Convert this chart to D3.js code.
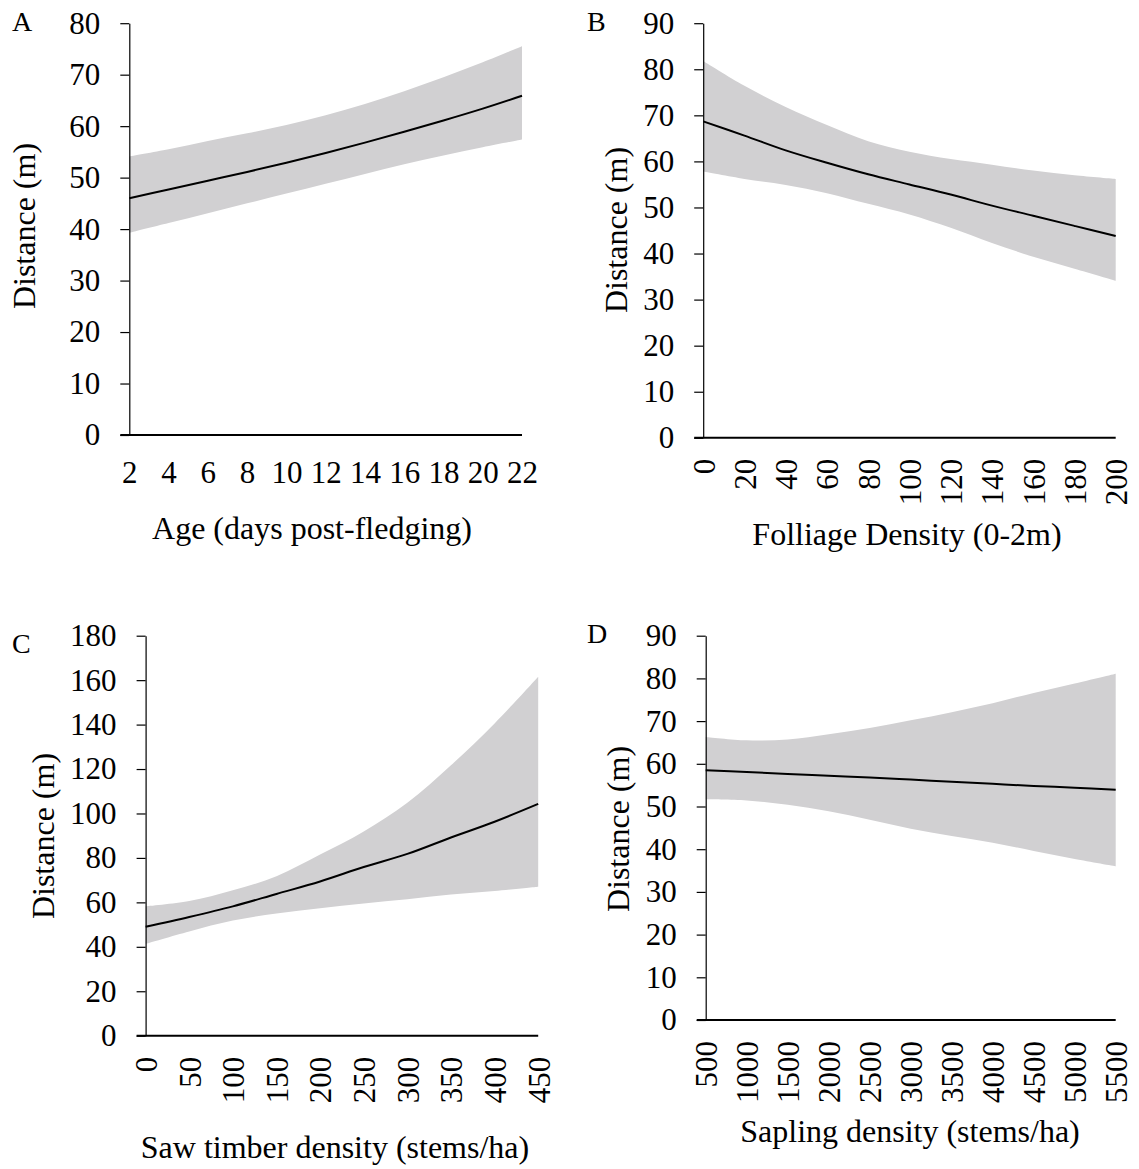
<!DOCTYPE html>
<html>
<head>
<meta charset="utf-8">
<script src="https://cdn.jsdelivr.net/npm/d3@7"></script>
<style>
  html, body { margin: 0; padding: 0; background: #fff; }
  svg { display: block; }
  text { font-family: "Liberation Serif", "Times New Roman", serif; fill: #000; }
</style>
</head>
<body>
<svg id="chart" width="1139" height="1169"></svg>
<script>
// ---- Panel A: Age (days post-fledging)
const ageX     = [2, 4, 6, 8, 10, 12, 14, 16, 18, 20, 22];
const ageMean  = [46.0, 47.7, 49.4, 51.1, 52.9, 54.8, 56.8, 58.9, 61.1, 63.4, 65.9];
const ageLower = [39.3, 41.2, 43.1, 45.0, 46.9, 48.8, 50.7, 52.6, 54.3, 55.9, 57.4];
const ageUpper = [54.1, 55.5, 57.1, 58.6, 60.2, 62.1, 64.3, 66.8, 69.5, 72.4, 75.5];
const ageXTicks = [2, 4, 6, 8, 10, 12, 14, 16, 18, 20, 22];
const ageYTicks = [0, 10, 20, 30, 40, 50, 60, 70, 80];

// ---- Panel B: Folliage Density (0-2m)
const folX     = [0, 20, 40, 60, 80, 100, 120, 140, 160, 180, 200];
const folMean  = [68.7, 65.6, 62.4, 59.7, 57.2, 55.0, 52.8, 50.4, 48.2, 46.0, 43.8];
const folLower = [57.8, 56.2, 54.9, 53.1, 50.8, 48.5, 45.6, 42.3, 39.3, 36.7, 34.1];
const folUpper = [81.8, 76.4, 71.8, 67.9, 64.4, 62.1, 60.5, 59.3, 58.0, 57.0, 56.2];
const folXTicks = [0, 20, 40, 60, 80, 100, 120, 140, 160, 180, 200];
const folYTicks = [0, 10, 20, 30, 40, 50, 60, 70, 80, 90];

// ---- Panel C: Saw timber density (stems/ha)
const sawX     = [0, 50, 100, 150, 200, 250, 300, 350, 400, 450];
const sawMean  = [49.0, 53.4, 58.2, 63.8, 69.4, 75.9, 81.8, 89.2, 96.3, 104.3];
const sawLower = [41.3, 46.9, 51.8, 55.0, 57.4, 59.5, 61.4, 63.5, 65.1, 67.0];
const sawUpper = [58.2, 60.6, 65.4, 71.8, 81.5, 91.9, 104.8, 121.7, 140.5, 161.5];
const sawXTicks = [0, 50, 100, 150, 200, 250, 300, 350, 400, 450];
const sawYTicks = [0, 20, 40, 60, 80, 100, 120, 140, 160, 180];

// ---- Panel D: Sapling density (stems/ha)
const sapX     = [500, 1000, 1500, 2000, 2500, 3000, 3500, 4000, 4500, 5000, 5500];
const sapMean  = [58.5, 58.1, 57.6, 57.2, 56.8, 56.3, 55.8, 55.3, 54.8, 54.4, 53.9];
const sapLower = [51.7, 51.4, 50.4, 48.9, 46.9, 44.8, 43.1, 41.5, 39.6, 37.7, 36.0];
const sapUpper = [66.3, 65.5, 65.7, 66.9, 68.4, 70.2, 72.1, 74.2, 76.6, 78.8, 81.1];
const sapXTicks = [500, 1000, 1500, 2000, 2500, 3000, 3500, 4000, 4500, 5000, 5500];
const sapYTicks = [0, 10, 20, 30, 40, 50, 60, 70, 80, 90];

const yTitle = "Distance (m)";

const panels = [
  { letter: "A", x: ageX, mean: ageMean, lo: ageLower, hi: ageUpper, xTicks: ageXTicks, yTicks: ageYTicks,
    xTitle: "Age (days post-fledging)", rotate: false,
    left: 129.3, right: 522, top: 23.2, bottom: 435,
    letterPos: [12, 30.5], yTitlePos: [35, 226], xTitlePos: [312, 539] },
  { letter: "B", x: folX, mean: folMean, lo: folLower, hi: folUpper, xTicks: folXTicks, yTicks: folYTicks,
    xTitle: "Folliage Density (0-2m)", rotate: true,
    left: 703.2, right: 1115.7, top: 23.2, bottom: 437.8,
    letterPos: [587, 30.5], yTitlePos: [627, 230], xTitlePos: [907, 545] },
  { letter: "C", x: sawX, mean: sawMean, lo: sawLower, hi: sawUpper, xTicks: sawXTicks, yTicks: sawYTicks,
    xTitle: "Saw timber density (stems/ha)", rotate: true,
    left: 145.6, right: 538.2, top: 635.7, bottom: 1035.7,
    letterPos: [12, 653], yTitlePos: [54, 836], xTitlePos: [335, 1158] },
  { letter: "D", x: sapX, mean: sapMean, lo: sapLower, hi: sapUpper, xTicks: sapXTicks, yTicks: sapYTicks,
    xTitle: "Sapling density (stems/ha)", rotate: true,
    left: 705.7, right: 1115.7, top: 635.7, bottom: 1020,
    letterPos: [587, 643], yTitlePos: [629, 829], xTitlePos: [910, 1142] }
];

const svg = d3.select("#chart");
const FS = 31;
const TS = 32;

panels.forEach(p => {
  const g = svg.append("g");
  const xs = d3.scaleLinear().domain(d3.extent(p.xTicks)).range([p.left, p.right]);
  const ys = d3.scaleLinear().domain(d3.extent(p.yTicks)).range([p.bottom, p.top]);
  const pts = p.x.map((v, i) => ({ x: v, m: p.mean[i], lo: p.lo[i], hi: p.hi[i] }));

  // confidence band
  g.append("path")
    .datum(pts)
    .attr("fill", "#d1d0d2")
    .attr("d", d3.area().curve(d3.curveCatmullRom.alpha(0.5))
      .x(d => xs(d.x)).y0(d => ys(d.lo)).y1(d => ys(d.hi)));

  // mean line
  g.append("path")
    .datum(pts)
    .attr("fill", "none")
    .attr("stroke", "#000")
    .attr("stroke-width", 2)
    .attr("d", d3.line().curve(d3.curveCatmullRom.alpha(0.5)).x(d => xs(d.x)).y(d => ys(d.m)));

  // y axis
  const yAxis = d3.axisLeft(ys).tickValues(p.yTicks).tickSize(9).tickPadding(20).tickSizeOuter(0)
    .tickFormat(d3.format("d"));
  const ya = g.append("g").attr("transform", `translate(${p.left},0)`).call(yAxis);
  ya.select(".domain").attr("stroke", "#000").attr("stroke-width", 1.2);
  ya.selectAll(".tick line").attr("stroke", "#000").attr("stroke-width", 1.2);
  ya.selectAll(".tick text").style("font-size", FS + "px").style("font-family", "Liberation Serif");

  // x axis
  const xAxis = d3.axisBottom(xs).tickValues(p.xTicks).tickSize(0).tickSizeOuter(0)
    .tickFormat(d3.format("d"));
  const xa = g.append("g").attr("transform", `translate(0,${p.bottom})`).call(xAxis);
  xa.select(".domain").attr("stroke", "#000").attr("stroke-width", 2)
    .attr("d", `M${p.left - 9},0H${p.right}`);
  const xt = xa.selectAll(".tick text").style("font-size", FS + "px").style("font-family", "Liberation Serif");
  if (p.rotate) {
    xt.attr("transform", "rotate(-90)")
      .attr("x", -21).attr("y", 0).attr("dy", "0.35em")
      .attr("text-anchor", "end");
  } else {
    xt.attr("y", 26).attr("dy", "0.71em");
  }

  // panel letter
  g.append("text").attr("x", p.letterPos[0]).attr("y", p.letterPos[1])
    .style("font-size", "28px").text(p.letter);

  // y title
  g.append("text")
    .attr("transform", `translate(${p.yTitlePos[0]},${p.yTitlePos[1]}) rotate(-90)`)
    .attr("text-anchor", "middle")
    .style("font-size", TS + "px")
    .text(yTitle);

  // x title
  g.append("text")
    .attr("x", p.xTitlePos[0]).attr("y", p.xTitlePos[1])
    .attr("text-anchor", "middle")
    .style("font-size", TS + "px")
    .text(p.xTitle);
});
</script>
</body>
</html>
